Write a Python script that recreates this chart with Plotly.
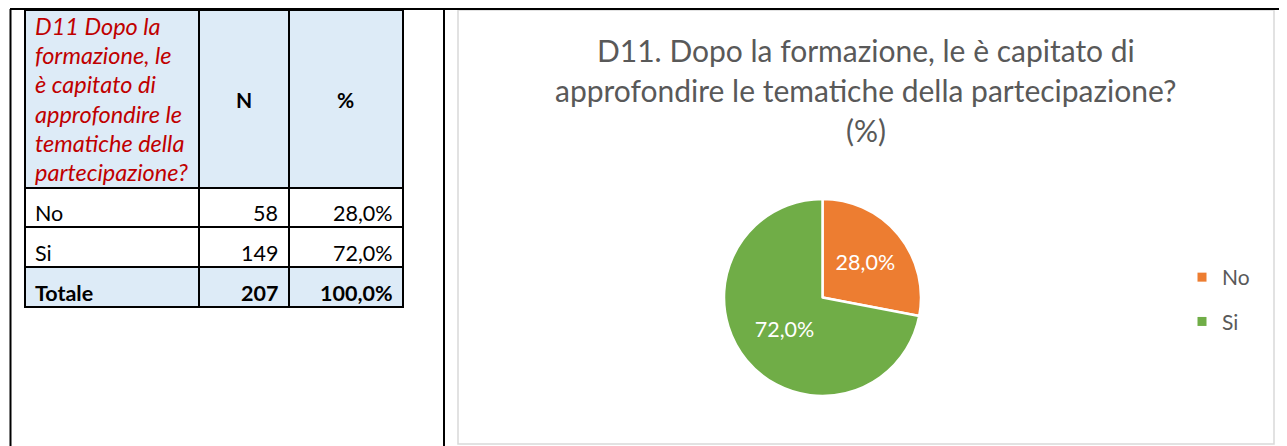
import plotly.graph_objects as go

# Reference canvas size; the HTML body adds an 8px margin, so the figure is
# made 8px smaller and every pixel position is shifted by that margin.
W, H = 1287, 446
OFF = 8
FIG_W, FIG_H = W - OFF, H - OFF

# ---------------- data ----------------
title_lines = [
    "D11. Dopo la formazione, le è capitato di",
    "approfondire le tematiche della partecipazione?",
    "(%)",
]
table_question = ["D11 Dopo la", "formazione, le", "è capitato di",
                  "approfondire le", "tematiche della", "partecipazione?"]
col_headers = ["N", "%"]
categories = ["No", "Si"]
counts = [58, 149]
total_label = "Totale"
colors = ["#ED7D31", "#70AD47"]

total = sum(counts)


def fmt_pct(v):
    return f"{v:.1f}".replace(".", ",") + "%"


pcts = [fmt_pct(100 * c / total) for c in counts]


# ---------------- helpers (pixel -> paper) ----------------
def X(px):
    return (px - OFF) / FIG_W


def Y(py):
    return 1 - (py - OFF) / FIG_H


FONT = "Lato"
shapes = []
annotations = []


def line(x0, y0, x1, y1, color="black", width=2):
    shapes.append(dict(type="line", xref="paper", yref="paper",
                       x0=X(x0), y0=Y(y0), x1=X(x1), y1=Y(y1),
                       line=dict(color=color, width=width)))


def rect(x0, y0, x1, y1, fill=None, color=None, width=0):
    d = dict(type="rect", xref="paper", yref="paper",
             x0=X(x0), y0=Y(y0), x1=X(x1), y1=Y(y1), layer="below",
             line=dict(width=width, color=color or "rgba(0,0,0,0)"))
    if fill:
        d["fillcolor"] = fill
    shapes.append(d)


def text(t, x, y, size, color="black", xanchor="left"):
    annotations.append(dict(text=t, x=X(x), y=Y(y), xref="paper", yref="paper",
                            xanchor=xanchor, yanchor="middle", showarrow=False,
                            font=dict(family=FONT, size=size, color=color)))


# ---------------- page frame ----------------
line(10, 9, W, 9)
line(10.5, 9, 10.5, H)
line(444, 9, 444, H)

# ---------------- table ----------------
col_edges = [25, 199, 289, 403]
row_edges = [10, 188, 227, 267, 307]
HEAD_BG = "#DDEBF7"
rect(col_edges[0], row_edges[0], col_edges[-1], row_edges[1], fill=HEAD_BG)
rect(col_edges[0], row_edges[3], col_edges[-1], row_edges[4], fill=HEAD_BG)
for yv in row_edges:
    line(col_edges[0] - 1, yv, col_edges[-1] + 1, yv)
for xv in col_edges:
    line(xv, row_edges[0], xv, row_edges[-1])

line_gap = 29.2
for i, t in enumerate(table_question):
    text(f"<i>{t}</i>", 33, 26 + i * line_gap, 23.5, color="#C00000")
hdr_mid = (row_edges[0] + row_edges[1]) / 2
for j, h in enumerate(col_headers):
    cx = (col_edges[j + 1] + col_edges[j + 2]) / 2
    text(f"<b>{h}</b>", cx, hdr_mid, 21, xanchor="center")

rows = [(categories[i], str(counts[i]), pcts[i], False) for i in range(len(categories))]
rows.append((total_label, str(total), fmt_pct(100.0), True))
for r, (lab, n, p, bold) in enumerate(rows):
    cy = row_edges[r + 2] - 14
    wrap = (lambda s: f"<b>{s}</b>") if bold else (lambda s: s)
    text(wrap(lab), 33, cy, 21.5)
    text(wrap(n), col_edges[2] - 9, cy, 21.5, xanchor="right")
    text(wrap(p), col_edges[3] - 8, cy, 21.5, xanchor="right")

# ---------------- chart box ----------------
rect(458, 10, 1274, 444, color="#D9D9D9", width=1.5)

for i, t in enumerate(title_lines):
    text(t, 866, 50 + 40 * i, 30, color="#595959", xanchor="center")

# ---------------- pie ----------------
pie = go.Pie(
    labels=categories,
    values=counts,
    sort=False,
    direction="clockwise",
    rotation=0,
    marker=dict(colors=colors, line=dict(color="white", width=2.5)),
    textinfo="percent",
    texttemplate="%{percent:.1%}",
    textposition="inside",
    insidetextorientation="horizontal",
    textfont=dict(family=FONT, size=21.5, color="white"),
    hoverinfo="label+value+percent",
    showlegend=False,
    domain=dict(x=[X(724), X(921)], y=[Y(396), Y(199)]),
)

fig = go.Figure(pie)

# legend entries (one per category, spaced like the reference legend)
for cat, col in zip(categories, colors):
    fig.add_trace(go.Scatter(
        x=[None], y=[None], mode="markers", name=cat, legendgroup=cat,
        marker=dict(symbol="square", size=9, color=col),
        hoverinfo="skip", showlegend=True,
    ))

fig.update_layout(
    width=FIG_W, height=FIG_H, autosize=False,
    margin=dict(l=0, r=0, t=0, b=0),
    paper_bgcolor="white", plot_bgcolor="rgba(0,0,0,0)",
    separators=",.",
    font=dict(family=FONT, color="#595959"),
    xaxis=dict(visible=False, fixedrange=True),
    yaxis=dict(visible=False, fixedrange=True),
    showlegend=True,
    legend=dict(x=X(1182), y=Y(299.5), xanchor="left", yanchor="middle",
                font=dict(family=FONT, size=21, color="#595959"),
                tracegroupgap=14,
                bgcolor="rgba(0,0,0,0)"),
    shapes=shapes,
    annotations=annotations,
)

fig.write_html("out.html")
